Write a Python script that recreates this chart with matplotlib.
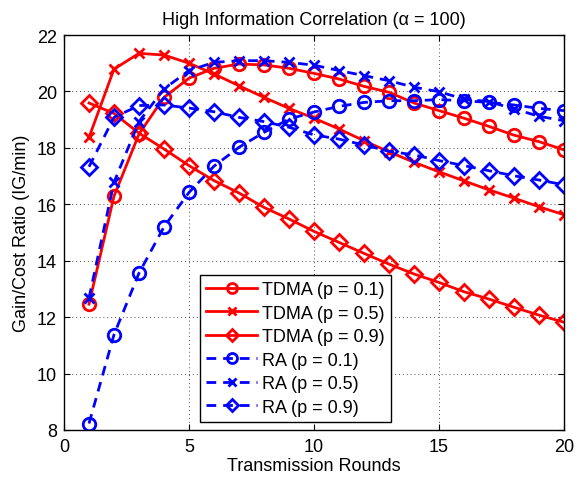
import matplotlib
matplotlib.use("Agg")
import matplotlib.pyplot as plt

plt.rcParams['font.family'] = ['Liberation Sans', 'DejaVu Sans']

rounds = list(range(1, 21))
tdma_01 = [12.46, 16.29, 18.49, 19.79, 20.47, 20.82, 20.97, 20.94, 20.82, 20.64,
           20.44, 20.18, 19.97, 19.59, 19.32, 19.05, 18.76, 18.45, 18.22, 17.93]
tdma_05 = [18.37, 20.79, 21.35, 21.29, 21.00, 20.62, 20.20, 19.79, 19.40, 19.05,
           18.67, 18.25, 17.86, 17.49, 17.15, 16.83, 16.51, 16.22, 15.91, 15.63]
tdma_09 = [19.59, 19.22, 18.52, 17.96, 17.37, 16.84, 16.40, 15.89, 15.48, 15.04,
           14.65, 14.26, 13.88, 13.53, 13.23, 12.90, 12.64, 12.35, 12.07, 11.82]
ra_01 = [8.23, 11.38, 13.56, 15.20, 16.42, 17.35, 18.02, 18.55, 19.02, 19.27,
         19.47, 19.61, 19.67, 19.67, 19.71, 19.67, 19.61, 19.52, 19.40, 19.32]
ra_05 = [12.68, 16.78, 18.93, 20.09, 20.74, 21.03, 21.09, 21.09, 21.03, 20.93,
         20.74, 20.56, 20.38, 20.15, 19.99, 19.73, 19.64, 19.38, 19.12, 18.96]
ra_09 = [17.33, 19.08, 19.50, 19.52, 19.41, 19.28, 19.08, 18.93, 18.73, 18.46,
         18.31, 18.10, 17.88, 17.75, 17.55, 17.37, 17.19, 17.01, 16.86, 16.69]

labels = ['TDMA (p = 0.1)', 'TDMA (p = 0.5)', 'TDMA (p = 0.9)',
          'RA (p = 0.1)', 'RA (p = 0.5)', 'RA (p = 0.9)']

FS = 13
fig = plt.figure(figsize=(5.81, 4.81), dpi=100)
ax = fig.add_axes([64/581, 50/481, 500/581, 395/481])

lw = 2
dash = (0, (3.5, 2.5))
ax.plot(rounds, tdma_01, color='red', ls='-', lw=lw, marker='o', ms=9, mfc='none', mew=2, label=labels[0])
ax.plot(rounds, tdma_05, color='red', ls='-', lw=lw, marker='x', ms=7, mfc='none', mew=2, label=labels[1])
ax.plot(rounds, tdma_09, color='red', ls='-', lw=lw, marker='D', ms=8, mfc='none', mew=2, label=labels[2])
ax.plot(rounds, ra_01, color='blue', ls=dash, lw=lw, marker='o', ms=9, mfc='none', mew=2, label=labels[3])
ax.plot(rounds, ra_05, color='blue', ls=dash, lw=lw, marker='x', ms=7, mfc='none', mew=2, label=labels[4])
ax.plot(rounds, ra_09, color='blue', ls=dash, lw=lw, marker='D', ms=8, mfc='none', mew=2, label=labels[5])

ax.set_xlim(0, 20)
ax.set_ylim(8, 22)
ax.set_xticks([0, 5, 10, 15, 20])
ax.set_yticks(list(range(8, 23, 2)))
ax.tick_params(direction='in', top=True, right=True, labelsize=FS, length=4)
ax.tick_params(axis='x', pad=6)
ax.tick_params(axis='y', pad=5)
ax.grid(True, ls=(0, (1, 3)), color='black', lw=0.7, alpha=0.7)
for s in ax.spines.values():
    s.set_linewidth(1)

ax.set_xlabel('Transmission Rounds', fontsize=FS, labelpad=1)
ax.set_ylabel('Gain/Cost Ratio (IG/min)', fontsize=FS, labelpad=5)
ax.set_title('High Information Correlation (\u03b1 = 100)', fontsize=FS, pad=8)

leg = ax.legend(loc='lower left', bbox_to_anchor=(0.272, 0.02), fontsize=FS,
                fancybox=False, framealpha=1, edgecolor='black',
                handlelength=2.8, borderpad=0.35, labelspacing=0.36,
                handletextpad=0.3, borderaxespad=0, markerscale=0.8)
leg.get_frame().set_linewidth(1)

fig.savefig('out.png', dpi=100)
